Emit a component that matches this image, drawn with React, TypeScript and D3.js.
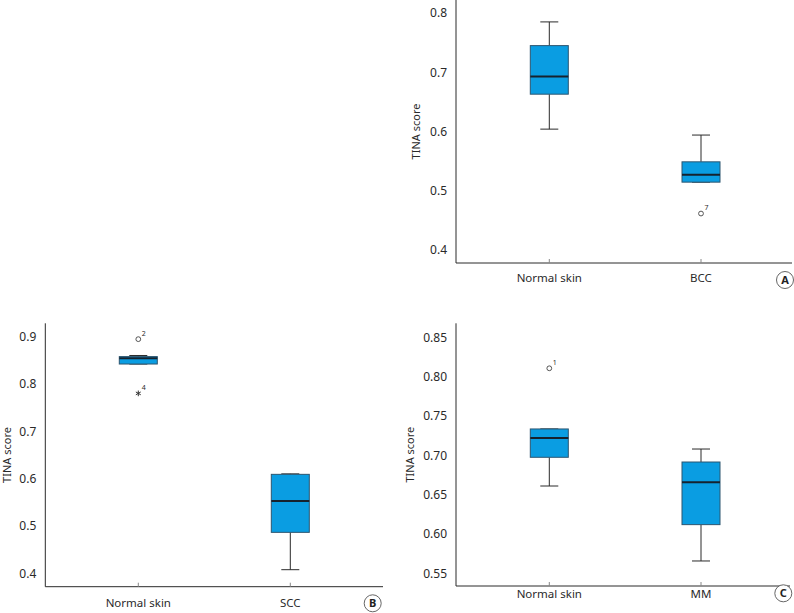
import React from "react";
import * as d3 from "d3";

// ---------- Data ----------
const catsA = ["Normal skin", "BCC"];
const lowA = [0.604, 0.5145];
const q1A = [0.663, 0.5145];
const medA = [0.693, 0.527];
const q3A = [0.745, 0.5488];
const highA = [0.785, 0.594];
const outA = [{ cat: "BCC", value: 0.4615, label: "7", kind: "circle" }];
const ticksA = [0.4, 0.5, 0.6, 0.7, 0.8];

const catsB = ["Normal skin", "SCC"];
const lowB = [0.842, 0.4076];
const q1B = [0.842, 0.4865];
const medB = [0.854, 0.5526];
const q3B = [0.8577, 0.609];
const highB = [0.86, 0.61];
const outB = [
  { cat: "Normal skin", value: 0.8945, label: "2", kind: "circle" },
  { cat: "Normal skin", value: 0.78, label: "4", kind: "star" },
];
const ticksB = [0.4, 0.5, 0.6, 0.7, 0.8, 0.9];

const catsC = ["Normal skin", "MM"];
const lowC = [0.661, 0.5657];
const q1C = [0.6975, 0.6119];
const medC = [0.722, 0.6657];
const q3C = [0.7335, 0.6915];
const highC = [0.7335, 0.708];
const outC = [{ cat: "Normal skin", value: 0.8106, label: "1", kind: "circle" }];
const ticksC = [0.55, 0.6, 0.65, 0.7, 0.75, 0.8, 0.85];

const FONT = "'Noto Sans', 'Open Sans', sans-serif";
const BOX_FILL = "#0a9de2";
const BOX_STROKE = "#2d5670";
const INK = "#2a2a2a";

type Outlier = { cat: string; value: number; label: string; kind: string };

type PanelProps = {
  cats: string[];
  low: number[];
  q1: number[];
  med: number[];
  q3: number[];
  high: number[];
  outliers: Outlier[];
  ticks: number[];
  tickFmt: string;
  domain: [number, number];
  axisLeft: number;
  axisRight: number;
  axisTop: number;
  axisBottom: number;
  centers: [number, number];
  ylabelX: number;
  xlabelY: number;
  letter: string;
  letterX: number;
  letterY: number;
};

function Panel(p: PanelProps) {
  const y = d3.scaleLinear().domain(p.domain).range([p.axisBottom, p.axisTop]);
  const x = d3.scalePoint<string>().domain(p.cats).range(p.centers);
  const boxW = 38;
  const capW = 18;
  const fmt = d3.format(p.tickFmt);
  const star = d3.symbol().type(d3.symbolAsterisk).size(22)() as string;
  const midY = (p.axisTop + p.axisBottom) / 2;
  return (
    <g>
      {/* axes */}
      <line x1={p.axisLeft} x2={p.axisLeft} y1={p.axisTop} y2={p.axisBottom} stroke={INK} strokeWidth={1} />
      <line x1={p.axisLeft} x2={p.axisRight} y1={p.axisBottom} y2={p.axisBottom} stroke={INK} strokeWidth={1} />
      {p.ticks.map((t) => (
        <text key={t} x={p.axisLeft - 9} y={y(t)} dy="0.36em" textAnchor="end" fontSize={12} fontFamily={FONT} fill={INK}>
          {fmt(t)}
        </text>
      ))}
      {p.cats.map((c) => (
        <g key={c}>
          <line x1={x(c)} x2={x(c)} y1={p.axisBottom} y2={p.axisBottom - 4} stroke="#888" strokeWidth={1} />
          <text x={x(c)} y={p.xlabelY} dy="0.36em" textAnchor="middle" fontSize={11.5} fontFamily={FONT} fill={INK}>
            {c}
          </text>
        </g>
      ))}
      <text
        transform={`translate(${p.ylabelX},${midY}) rotate(-90)`}
        dy="0.36em"
        textAnchor="middle"
        fontSize={11}
        fontFamily={FONT}
        fill={INK}
      >
        TINA score
      </text>
      {/* boxes */}
      {p.cats.map((c, i) => {
        const cx = x(c) as number;
        return (
          <g key={"b" + c}>
            <line x1={cx} x2={cx} y1={y(p.high[i])} y2={y(p.q3[i])} stroke={INK} strokeWidth={1} />
            <line x1={cx} x2={cx} y1={y(p.q1[i])} y2={y(p.low[i])} stroke={INK} strokeWidth={1} />
            <line x1={cx - capW / 2} x2={cx + capW / 2} y1={y(p.high[i])} y2={y(p.high[i])} stroke={INK} strokeWidth={1} />
            <line x1={cx - capW / 2} x2={cx + capW / 2} y1={y(p.low[i])} y2={y(p.low[i])} stroke={INK} strokeWidth={1} />
            <rect
              x={cx - boxW / 2}
              y={y(p.q3[i])}
              width={boxW}
              height={y(p.q1[i]) - y(p.q3[i])}
              fill={BOX_FILL}
              stroke={BOX_STROKE}
              strokeWidth={1}
            />
            <line x1={cx - boxW / 2} x2={cx + boxW / 2} y1={y(p.med[i])} y2={y(p.med[i])} stroke="#16222e" strokeWidth={2} />
          </g>
        );
      })}
      {/* outliers */}
      {p.outliers.map((o, i) => {
        const cx = x(o.cat) as number;
        const cy = y(o.value);
        return (
          <g key={"o" + i}>
            {o.kind === "circle" ? (
              <circle cx={cx} cy={cy} r={2.4} fill="none" stroke="#444" strokeWidth={0.9} />
            ) : (
              <path d={star} transform={`translate(${cx},${cy})`} stroke="#333" strokeWidth={1} fill="none" />
            )}
            <text x={cx + 3.5} y={cy - 3.5} fontSize={7} fontFamily={FONT} fill={INK}>
              {o.label}
            </text>
          </g>
        );
      })}
      {/* panel letter */}
      <circle cx={p.letterX} cy={p.letterY} r={8.5} fill="#fff" stroke="#555" strokeWidth={0.9} />
      <text x={p.letterX} y={p.letterY} dy="0.36em" textAnchor="middle" fontSize={11} fontWeight="bold" fontFamily={FONT} fill="#222">
        {p.letter}
      </text>
    </g>
  );
}

export default function App() {
  return (
    <svg
      width={794}
      height={613}
      style={{ position: "absolute", left: 0, top: 0, background: "#fff" }}
    >
      <rect width={794} height={613} fill="#fff" />
      <Panel
        cats={catsA}
        low={lowA}
        q1={q1A}
        med={medA}
        q3={q3A}
        high={highA}
        outliers={outA}
        ticks={ticksA}
        tickFmt=".1f"
        domain={[0.378, 0.822]}
        axisLeft={456}
        axisRight={792}
        axisTop={0}
        axisBottom={263}
        centers={[549.3, 701]}
        ylabelX={416}
        xlabelY={278}
        letter="A"
        letterX={785}
        letterY={280}
      />
      <Panel
        cats={catsB}
        low={lowB}
        q1={q1B}
        med={medB}
        q3={q3B}
        high={highB}
        outliers={outB}
        ticks={ticksB}
        tickFmt=".1f"
        domain={[0.3717, 0.928]}
        axisLeft={45.3}
        axisRight={383}
        axisTop={323.3}
        axisBottom={586.7}
        centers={[138.3, 290.3]}
        ylabelX={7}
        xlabelY={602.7}
        letter="B"
        letterX={372.7}
        letterY={603.3}
      />
      <Panel
        cats={catsC}
        low={lowC}
        q1={q1C}
        med={medC}
        q3={q3C}
        high={highC}
        outliers={outC}
        ticks={ticksC}
        tickFmt=".2f"
        domain={[0.5339, 0.8678]}
        axisLeft={456}
        axisRight={790}
        axisTop={323.3}
        axisBottom={586}
        centers={[549.3, 701]}
        ylabelX={410}
        xlabelY={594.3}
        letter="C"
        letterX={783.3}
        letterY={593.3}
      />
    </svg>
  );
}
